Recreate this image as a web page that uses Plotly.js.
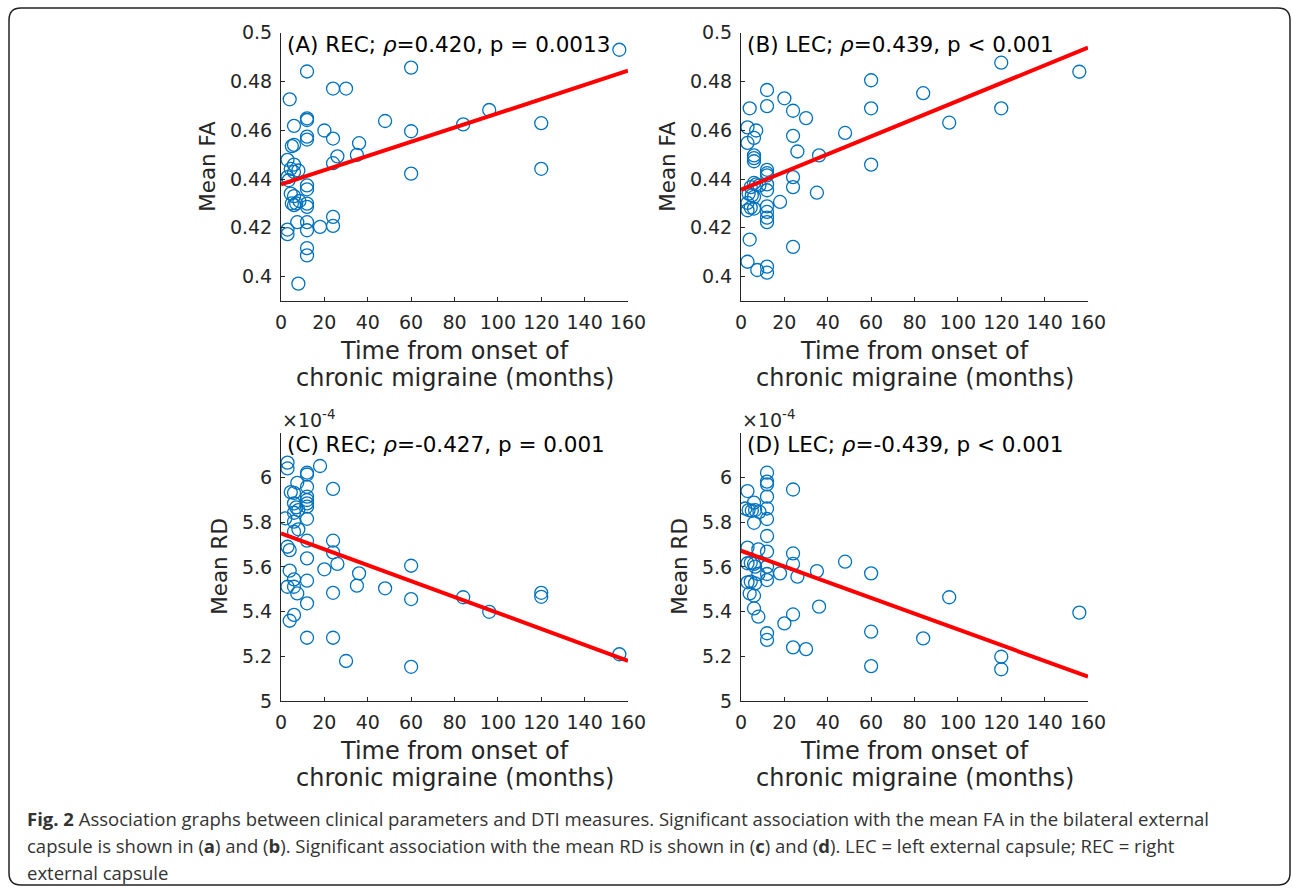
<!DOCTYPE html>
<html>
<head>
<meta charset="utf-8">
<script src="https://cdn.plot.ly/plotly-3.0.1.min.js"></script>
<style>html,body{margin:0;padding:0;background:#fff;}#chart{width:1292px;height:889px;}</style>
</head>
<body>
<div id="chart"></div>
<script>
// ---- Data (time from onset in months, measure) ----
const monthsA = [12,24,30,4,60,48,12,12,6,20,60,12,12,24,36,6,5,26,24,35,3,6,60,4.5,8,6,3,3.5,12,12,4.5,6,5,7,6,8.5,12,12,7.5,12,24,24,18,12,3,3,12,12,8,84,96,120,120,156];
const faREC   = [0.4841,0.4771,0.4771,0.4727,0.4857,0.4638,0.4649,0.4642,0.4618,0.4599,0.4596,0.4574,0.4562,0.4566,0.4547,0.4540,0.4535,0.4493,0.4465,0.4499,0.4479,0.4459,0.4422,0.4442,0.4435,0.4429,0.4408,0.4395,0.4374,0.4358,0.4340,0.4330,0.4300,0.4300,0.4293,0.4310,0.4299,0.4286,0.4223,0.4223,0.4245,0.4208,0.4204,0.4190,0.4193,0.4174,0.4117,0.4087,0.3971,0.4624,0.4683,0.4629,0.4442,0.4930];

const monthsB = [12,20,4,12,24,30,3,7,6,24,48,3,26,6,6,6,36,60,60,60,12,12,12,24,24,35,6,7,4.5,8.5,12,12,3.5,6,5,18,3,3,4.5,6,12,12,12,12,4,24,3,7.5,12,12,84,96,120,120,156];
const faLEC   = [0.4765,0.4731,0.4690,0.4699,0.4680,0.4650,0.4612,0.4599,0.4569,0.4577,0.4589,0.4548,0.4513,0.4497,0.4486,0.4473,0.4497,0.4805,0.4690,0.4459,0.4438,0.4424,0.4415,0.4408,0.4367,0.4344,0.4384,0.4378,0.4367,0.4374,0.4378,0.4354,0.4340,0.4327,0.4333,0.4306,0.4302,0.4272,0.4283,0.4279,0.4288,0.4265,0.4242,0.4223,0.4152,0.4122,0.4061,0.4027,0.4041,0.4016,0.4752,0.4631,0.4877,0.4690,0.4840];

const monthsC = [3,3,18,12,12,7.5,12,24,4.5,6,12,12,12,12,6,7,8,6,12,2,6,8,6,12,24,3,4,24,26,12,20,36,4,35,48,60,60,6,3,6,7.5,12,24,12,6,4,12,24,30,60,84,96,120,120,156];
const rdREC   = [6.066,6.040,6.051,6.021,6.013,5.976,5.958,5.949,5.934,5.931,5.914,5.899,5.884,5.869,5.884,5.866,5.854,5.842,5.815,5.817,5.802,5.768,5.757,5.717,5.717,5.690,5.675,5.665,5.613,5.638,5.589,5.571,5.583,5.516,5.504,5.605,5.456,5.544,5.511,5.511,5.481,5.538,5.484,5.437,5.385,5.359,5.283,5.283,5.179,5.153,5.464,5.399,5.484,5.466,5.209];

const monthsD = [12,12,12,12,12,12,12,12,12,12,12,12,12,24,3,6,2,3.5,5,6.5,8.5,6,3,8,3,4.5,6,6.5,8,24,24,18,26,35,48,60,3,4.5,6.5,4,6,6,8,36,24,20,24,30,60,60,84,96,120,120,156];
const rdLEC   = [6.021,5.981,5.969,5.914,5.861,5.814,5.738,5.668,5.601,5.568,5.541,5.303,5.273,5.946,5.939,5.887,5.861,5.854,5.851,5.854,5.846,5.797,5.686,5.678,5.616,5.618,5.613,5.601,5.568,5.660,5.613,5.571,5.556,5.581,5.623,5.571,5.531,5.534,5.526,5.481,5.471,5.414,5.377,5.422,5.387,5.347,5.240,5.232,5.310,5.156,5.280,5.464,5.198,5.142,5.395];

// Regression lines (end points)
const fitX   = [0, 160];
const fitREC_FA = [0.4378, 0.4844];
const fitLEC_FA = [0.4356, 0.4939];
const fitREC_RD = [5.750, 5.180];
const fitLEC_RD = [5.672, 5.109];

// Ticks
const xTicks = [0,20,40,60,80,100,120,140,160];
const xTickLabels = ['0','20','40','60','80','100','120','140','160'];
const faTicks = [0.4,0.42,0.44,0.46,0.48,0.5];
const faTickLabels = ['0.4','0.42','0.44','0.46','0.48','0.5'];
const rdTicks = [5,5.2,5.4,5.6,5.8,6];
const rdTickLabels = ['5','5.2','5.4','5.6','5.8','6'];

const panelTitles = [
  '(A) REC; <i>ρ</i>=0.420, p = 0.0013',
  '(B) LEC; <i>ρ</i>=0.439, p < 0.001',
  '(C) REC; <i>ρ</i>=-0.427, p = 0.001',
  '(D) LEC; <i>ρ</i>=-0.439, p < 0.001'
];
const yTitles = ['Mean FA','Mean FA','Mean RD','Mean RD'];
const xTitleLines = ['Time from onset of', 'chronic migraine (months)'];
const captionLines = [
  '<b>Fig. 2</b> Association graphs between clinical parameters and DTI measures. Significant association with the mean FA in the bilateral external',
  'capsule is shown in (<b>a</b>) and (<b>b</b>). Significant association with the mean RD is shown in (<b>c</b>) and (<b>d</b>). LEC = left external capsule; REC = right',
  'external capsule'
];

// ---- Geometry helpers (page pixels -> paper) ----
const W = 1292, H = 889;
const px = x => x / W;
const py = y => 1 - y / H;

const FONT = 'DejaVu Sans';
const TXT = '#262626';
const BLUE = '#0072BD';

function scatter(x, y, xa, ya) {
  return {x: x, y: y, xaxis: xa, yaxis: ya, type: 'scatter', mode: 'markers',
    marker: {symbol: 'circle-open', size: 13, color: BLUE, line: {width: 1.3, color: BLUE}},
    hoverinfo: 'x+y', showlegend: false};
}
function fit(x, y, xa, ya) {
  return {x: x, y: y, xaxis: xa, yaxis: ya, type: 'scatter', mode: 'lines',
    line: {color: '#FF0000', width: 4}, hoverinfo: 'skip', showlegend: false};
}

const data = [
  scatter(monthsA, faREC, 'x', 'y'),   fit(fitX, fitREC_FA, 'x', 'y'),
  scatter(monthsB, faLEC, 'x2', 'y2'), fit(fitX, fitLEC_FA, 'x2', 'y2'),
  scatter(monthsC, rdREC, 'x3', 'y3'), fit(fitX, fitREC_RD, 'x3', 'y3'),
  scatter(monthsD, rdLEC, 'x4', 'y4'), fit(fitX, fitLEC_RD, 'x4', 'y4')
];

const colL = [281, 628], colR = [741, 1088];
const rowT = [32.7, 301], rowB = [432.7, 701];

function xAxis(col, anchor) {
  return {domain: [px(col[0]), px(col[1])], anchor: anchor, range: [0, 160],
    tickvals: xTicks, ticktext: xTickLabels, ticks: 'inside', ticklen: 4, tickwidth: 1,
    tickcolor: TXT, showline: true, linecolor: TXT, linewidth: 1, showgrid: false, zeroline: false,
    tickfont: {family: FONT, size: 19, color: TXT}, ticklabelstandoff: 4};
}
function yAxis(row, anchor, range, tv, tt) {
  return {domain: [py(row[1]), py(row[0])], anchor: anchor, range: range,
    tickvals: tv, ticktext: tt, ticks: 'inside', ticklen: 4, tickwidth: 1,
    tickcolor: TXT, showline: true, linecolor: TXT, linewidth: 1, showgrid: false, zeroline: false,
    tickfont: {family: FONT, size: 19, color: TXT}, ticklabelstandoff: 4};
}

const annotations = [];
const panels = [
  {col: colL, row: rowT}, {col: colR, row: rowT},
  {col: colL, row: rowB}, {col: colR, row: rowB}
];
panels.forEach((p, i) => {
  annotations.push({xref: 'paper', yref: 'paper', x: px(p.col[0] + 4), y: py(p.row[0] + 12),
    xanchor: 'left', yanchor: 'middle', showarrow: false, text: panelTitles[i],
    font: {family: FONT, size: 21.5, color: '#000'}});
  annotations.push({xref: 'paper', yref: 'paper', x: px(p.col[0] - (i < 2 ? 73 : 61)), y: py((p.row[0] + p.row[1]) / 2),
    xanchor: 'center', yanchor: 'middle', textangle: -90, showarrow: false, text: yTitles[i],
    font: {family: FONT, size: 21.5, color: TXT}});
  xTitleLines.forEach((t, k) => {
    annotations.push({xref: 'paper', yref: 'paper', x: px((p.col[0] + p.col[1]) / 2), y: py(p.row[1] + 50 + 27 * k),
      xanchor: 'center', yanchor: 'middle', showarrow: false, text: t,
      font: {family: FONT, size: 24, color: TXT}});
  });
  if (i >= 2) {
    annotations.push({xref: 'paper', yref: 'paper', x: px(p.col[0] - 1), y: py(p.row[0] - 14),
      xanchor: 'left', yanchor: 'middle', showarrow: false, text: '×10<sup>-4</sup>',
      font: {family: FONT, size: 19, color: TXT}});
  }
});
captionLines.forEach((t, k) => {
  annotations.push({xref: 'paper', yref: 'paper', x: px(25), y: py(818 + 27 * k), xanchor: 'left', yanchor: 'middle',
    align: 'left', showarrow: false, text: t,
    font: {family: 'Open Sans', size: 18.5, color: '#333333'}});
});

// Frame with rounded corners
const fl = 9, ft = 8, fr = 1290, fb = 885, r = 12;
const framePath = `M ${px(fl)},${py(fb - r)} L ${px(fl)},${py(ft + r)} Q ${px(fl)},${py(ft)} ${px(fl + r)},${py(ft)} ` +
  `L ${px(fr - r)},${py(ft)} Q ${px(fr)},${py(ft)} ${px(fr)},${py(ft + r)} L ${px(fr)},${py(fb - r)} ` +
  `Q ${px(fr)},${py(fb)} ${px(fr - r)},${py(fb)} L ${px(fl + r)},${py(fb)} Q ${px(fl)},${py(fb)} ${px(fl)},${py(fb - r)} Z`;

const layout = {
  width: W, height: H, margin: {l: 0, r: 0, t: 0, b: 0},
  paper_bgcolor: '#fff', plot_bgcolor: 'rgba(0,0,0,0)', showlegend: false,
  xaxis: xAxis(colL, 'y'), yaxis: yAxis(rowT, 'x', [0.39, 0.5], faTicks, faTickLabels),
  xaxis2: xAxis(colR, 'y2'), yaxis2: yAxis(rowT, 'x2', [0.39, 0.5], faTicks, faTickLabels),
  xaxis3: xAxis(colL, 'y3'), yaxis3: yAxis(rowB, 'x3', [5.0, 6.2], rdTicks, rdTickLabels),
  xaxis4: xAxis(colR, 'y4'), yaxis4: yAxis(rowB, 'x4', [5.0, 6.2], rdTicks, rdTickLabels),
  annotations: annotations,
  shapes: [{type: 'path', xref: 'paper', yref: 'paper', path: framePath,
    line: {color: '#222', width: 1.5}, fillcolor: 'rgba(0,0,0,0)', layer: 'below'}]
};

Plotly.newPlot('chart', data, layout, {displayModeBar: false, staticPlot: true});
</script>
</body>
</html>
